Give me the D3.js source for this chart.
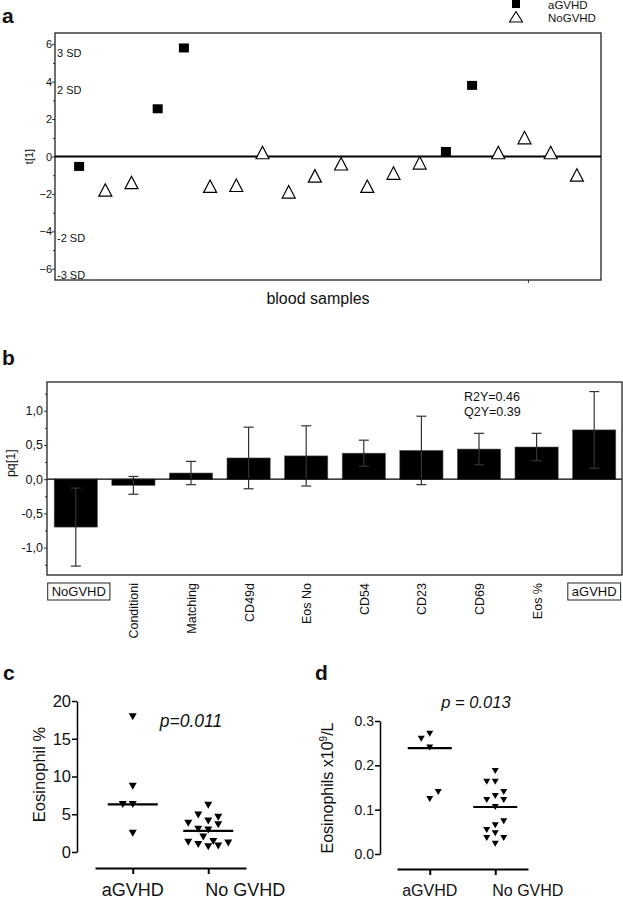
<!DOCTYPE html>
<html><head><meta charset="utf-8">
<script src="https://cdn.jsdelivr.net/npm/d3@7"></script>
<style>
body{margin:0;background:#fff}
svg text{font-family:"Liberation Sans",Arial,sans-serif;fill:#111}
</style>
</head><body>
<svg id="chart" width="623" height="899"></svg>
<script>
// ---------- DATA ----------
// Panel a: score plot
const aGroups = ["aGVHD","NoGVHD","NoGVHD","aGVHD","aGVHD","NoGVHD","NoGVHD","NoGVHD","NoGVHD","NoGVHD",
                 "NoGVHD","NoGVHD","NoGVHD","NoGVHD","aGVHD","aGVHD","NoGVHD","NoGVHD","NoGVHD","NoGVHD"];
const aScores = [-0.53,-1.8,-1.4,2.55,5.8,-1.6,-1.55,0.2,-1.9,-1.05,-0.4,-1.6,-0.9,-0.35,0.27,3.8,0.2,1.0,0.2,-1.0];
const aYTicks = [-6,-4,-2,0,2,4,6];
const aSDLabels = ["3 SD","2 SD","-2 SD","-3 SD"];
const aSDValues = [5.3,3.35,-4.57,-6.55];
const aLegend = ["aGVHD","NoGVHD"];

// Panel b: loadings
const bCats = ["NoGVHD","Conditioni","Matching","CD49d","Eos No","CD54","CD23","CD69","Eos %","aGVHD"];
const bVals = [-0.70,-0.09,0.09,0.31,0.34,0.38,0.42,0.44,0.47,0.72];
const bErr  = [0.57,0.13,0.17,0.45,0.44,0.19,0.50,0.23,0.20,0.56];
const bBoxed = ["NoGVHD","aGVHD"];
const bYTicks = [-1,-0.5,0,0.5,1];
const bYTickLabels = ["-1,0","-0,5","0,0","0,5","1,0"];
const bStats = ["R2Y=0.46","Q2Y=0.39"];

// Panel c: Eosinophil %
const cGroups = ["aGVHD","No GVHD"];
const cA = [17.9,8.7,6.3,6.3,2.5];
const cASlot = [0,0,-1,0,0];
const cN = [6.2,4.9,4.6,4.1,3.8,3.6,3.0,2.9,2.0,1.3,1.4,1.0,0.7,0.8,1.2];
const cNSlot = [0,-1,1,0,-2,1,-1,0,-0.5,-2,0.5,-1,0,1,2];
const cMedians = [6.3,2.8];
const cYTicks = [0,5,10,15,20];
const cP = "p=0.011";

// Panel d: Eosinophils x10^9/L
const dGroups = ["aGVHD","No GVHD"];
const dA = [0.271,0.26,0.24,0.14,0.124];
const dASlot = [0,-1,0,1,0];
const dN = [0.187,0.163,0.163,0.14,0.131,0.122,0.122,0.106,0.074,0.065,0.054,0.047,0.036,0.036,0.023];
const dNSlot = [0,-1,0,1,0,-1,1,0,1,0,-1,0,-1,1,0];
const dMedians = [0.239,0.106];
const dYTicks = [0,0.1,0.2,0.3];
const dP = "p = 0.013";

// ---------- DRAW ----------
const svg = d3.select("#chart");
const FONT = "Liberation Sans, Arial, sans-serif";

function panelLetter(t,x,y){
  svg.append("text").attr("x",x).attr("y",y).text(t)
    .attr("font-size",21).attr("font-weight","bold");
}

// ===== Panel a =====
panelLetter("a",2,23);
{
  const L=55,R=601,T=33,B=280;
  const x = d3.scaleLinear().domain([0.08,20.92]).range([L,R]);
  const y = d3.scaleLinear().domain([-6.6,6.6]).range([B,T]);
  const g = svg.append("g");
  g.append("g").attr("transform",`translate(${L},0)`)
    .call(d3.axisLeft(y).tickValues(d3.range(-5,7,2)).tickSize(2).tickFormat(""))
    .call(s=>s.select(".domain").remove())
    .call(s=>s.selectAll("line").attr("stroke","#333"));
  g.append("g").attr("transform",`translate(${L},0)`)
    .call(d3.axisLeft(y).tickValues(aYTicks).tickSize(3).tickPadding(0).tickFormat(d3.format("d")))
    .call(s=>s.select(".domain").remove())
    .call(s=>s.selectAll("line").attr("stroke","#333"))
    .call(s=>s.selectAll("text").attr("font-size",11).attr("font-family",FONT).attr("fill","#111"));
  g.append("rect").attr("x",L).attr("y",T).attr("width",R-L).attr("height",B-T)
    .attr("fill","none").attr("stroke","#222").attr("stroke-width",1.3);
  g.append("line").attr("x1",L).attr("x2",R).attr("y1",y(0)).attr("y2",y(0))
    .attr("stroke","#000").attr("stroke-width",2);
  g.append("line").attr("x1",x(18.15)).attr("x2",x(18.15)).attr("y1",B).attr("y2",B+3).attr("stroke","#333");
  aSDLabels.forEach((t,i)=>{
    g.append("text").attr("x",L+2).attr("y",y(aSDValues[i])).text(t).attr("font-size",11);
  });
  aScores.forEach((v,i)=>{
    const cx=x(i+1), cy=y(v);
    if(aGroups[i]==="aGVHD"){
      g.append("rect").attr("x",cx-5).attr("y",cy-4.5).attr("width",10).attr("height",9).attr("fill","#000");
    } else {
      g.append("path").attr("d",`M${cx-6.5},${cy+6}L${cx+6.5},${cy+6}L${cx},${cy-6.5}Z`)
        .attr("fill","#fff").attr("stroke","#000").attr("stroke-width",1.2);
    }
  });
  svg.append("text").attr("transform",`translate(33,${y(0)}) rotate(-90)`).attr("text-anchor","middle")
    .attr("font-size",11).text("t[1]");
  svg.append("text").attr("x",318).attr("y",304).attr("text-anchor","middle")
    .attr("font-size",16).text("blood samples");
  // legend
  svg.append("rect").attr("x",512).attr("y",0).attr("width",8).attr("height",8).attr("fill","#000");
  svg.append("path").attr("d","M509.5,22L522.5,22L516,11.5Z").attr("fill","#fff").attr("stroke","#000").attr("stroke-width",1.1);
  svg.append("text").attr("x",548).attr("y",9).attr("font-size",11.5).text(aLegend[0]);
  svg.append("text").attr("x",548).attr("y",22).attr("font-size",11.5).text(aLegend[1]);
}

// ===== Panel b =====
panelLetter("b",2,365);
{
  const L=47,R=622,T=382,B=575;
  const x = d3.scaleBand().domain(bCats).range([L,623]).paddingInner(0.25).paddingOuter(0.125);
  const y = d3.scaleLinear().domain([-1.4,1.42]).range([B,T]);
  const g = svg.append("g");
  g.append("g").attr("transform",`translate(${L},0)`)
    .call(d3.axisLeft(y).tickValues(d3.range(-1.25,1.5,0.5)).tickSize(2).tickFormat(""))
    .call(s=>s.select(".domain").remove())
    .call(s=>s.selectAll("line").attr("stroke","#333"));
  g.append("g").attr("transform",`translate(${L},0)`)
    .call(d3.axisLeft(y).tickValues(bYTicks).tickSize(3).tickPadding(1).tickFormat((d,i)=>bYTickLabels[i]))
    .call(s=>s.select(".domain").remove())
    .call(s=>s.selectAll("line").attr("stroke","#333"))
    .call(s=>s.selectAll("text").attr("font-size",12.5).attr("font-family",FONT).attr("fill","#111"));
  g.selectAll(".bar").data(bCats).join("rect")
    .attr("x",d=>x(d)).attr("width",x.bandwidth())
    .attr("y",(d,i)=>y(Math.max(0,bVals[i]))).attr("height",(d,i)=>Math.abs(y(bVals[i])-y(0)))
    .attr("fill","#000").attr("stroke","#555").attr("stroke-width",0.6);
  bCats.forEach((c,i)=>{
    const cx=x(c)+x.bandwidth()/2;
    const y1=y(bVals[i]+bErr[i]), y2=y(bVals[i]-bErr[i]);
    g.append("line").attr("x1",cx).attr("x2",cx).attr("y1",y1).attr("y2",y2).attr("stroke","#333").attr("stroke-width",1.2);
    [y1,y2].forEach(yy=>g.append("line").attr("x1",cx-5).attr("x2",cx+5).attr("y1",yy).attr("y2",yy).attr("stroke","#333").attr("stroke-width",1.2));
  });
  g.append("line").attr("x1",L).attr("x2",R).attr("y1",y(0)).attr("y2",y(0)).attr("stroke","#000").attr("stroke-width",1.2);
  g.append("rect").attr("x",L).attr("y",T).attr("width",R-L).attr("height",B-T)
    .attr("fill","none").attr("stroke","#222").attr("stroke-width",1.3);
  bStats.forEach((t,i)=>g.append("text").attr("x",464).attr("y",401+i*14.5).attr("font-size",12.5).text(t));
  bCats.forEach((c,i)=>{
    const cx=x(c)+x.bandwidth()/2;
    if(bBoxed.includes(c)){
      const tx = g.append("text").attr("x",cx+(i===0?3:0)).attr("y",596).attr("text-anchor","middle").attr("font-size",13).text(c);
      const bb = tx.node().getBBox();
      g.append("rect").attr("x",bb.x-4).attr("y",583).attr("width",bb.width+8).attr("height",17)
        .attr("fill","none").attr("stroke","#222").attr("stroke-width",1);
    } else {
      g.append("text").attr("transform",`translate(${cx+5},583) rotate(-90)`).attr("text-anchor","end")
        .attr("font-size",12.5).text(c);
    }
  });
  svg.append("text").attr("transform",`translate(15,${y(0)-16}) rotate(-90)`).attr("text-anchor","middle")
    .attr("font-size",12.5).text("pq[1]");
}

// ===== Panel c & d helper =====
function dotPanel(opt){
  const {xr,yr,ydom,ticks,fmt,groups,vals,slots,meds,slotW,triW,triH,medHalf,axisY,tickFont,labFont} = opt;
  const x = d3.scalePoint().domain(groups).range(xr).padding(0.5);
  const y = d3.scaleLinear().domain(ydom).range(yr);
  const s = d3.scaleLinear().domain([-1,1]).range([-slotW,slotW]);
  const g = svg.append("g");
  g.append("g").attr("transform",`translate(${opt.yAxisX},0)`)
    .call(d3.axisLeft(y).tickValues(ticks).tickSize(5).tickSizeOuter(0).tickPadding(1).tickFormat(fmt))
    .call(a=>a.selectAll("path,line").attr("stroke","#000").attr("stroke-width",1.5))
    .call(a=>a.selectAll("text").attr("font-size",tickFont).attr("font-family",FONT).attr("fill","#111"));
  g.append("g").attr("transform",`translate(0,${axisY})`)
    .call(d3.axisBottom(x).tickSize(6).tickSizeOuter(0).tickFormat(""))
    .call(a=>a.selectAll("path,line").attr("stroke","#000").attr("stroke-width",2));
  groups.forEach((gr,k)=>{
    g.append("text").attr("x",k===0?x(gr):x(gr)-3).attr("y",896)
      .attr("text-anchor",k===0?"middle":"start").attr("font-size",labFont).text(gr);
  });
  groups.forEach((gr,k)=>{
    vals[k].forEach((v,i)=>{
      const cx=x(gr)+s(slots[k][i]), cy=y(v);
      g.append("path").attr("d",`M${cx-triW/2},${cy-triH/2}L${cx+triW/2},${cy-triH/2}L${cx},${cy+triH/2}Z`).attr("fill","#000");
    });
    g.append("line").attr("x1",x(gr)-medHalf).attr("x2",x(gr)+medHalf).attr("y1",y(meds[k])).attr("y2",y(meds[k]))
      .attr("stroke","#000").attr("stroke-width",2.2);
  });
  return {x,y};
}

// ===== Panel c =====
panelLetter("c",3,680);
{
  dotPanel({xr:[95,246],yr:[852,701],ydom:[0,20],ticks:cYTicks,fmt:d3.format("d"),groups:cGroups,
    vals:[cA,cN],slots:[cASlot,cNSlot],meds:cMedians,slotW:10,triW:8,triH:7,medHalf:25,axisY:868,
    yAxisX:77,tickFont:16.5,labFont:18});
  svg.append("text").attr("transform","translate(44.5,774.5) rotate(-90)").attr("text-anchor","middle")
    .attr("font-size",16.5).text("Eosinophil %");
  svg.append("text").attr("x",191).attr("y",727).attr("text-anchor","middle").attr("font-size",17.5)
    .attr("font-style","italic").text(cP);
}

// ===== Panel d =====
panelLetter("d",315,680);
{
  dotPanel({xr:[397,528],yr:[854,721],ydom:[0,0.3],ticks:dYTicks,fmt:d3.format(".1f"),groups:dGroups,
    vals:[dA,dN],slots:[dASlot,dNSlot],meds:dMedians,slotW:8.5,triW:7,triH:6,medHalf:22,axisY:869,
    yAxisX:380,tickFont:14,labFont:16});
  const t = svg.append("text").attr("transform","translate(333,788) rotate(-90)").attr("text-anchor","middle")
    .attr("font-size",16);
  t.append("tspan").text("Eosinophils x10");
  t.append("tspan").attr("font-size",10).attr("dy",-6).text("9");
  t.append("tspan").attr("dy",6).text("/L");
  svg.append("text").attr("x",476).attr("y",708).attr("text-anchor","middle").attr("font-size",16.5)
    .attr("font-style","italic").text(dP);
}
</script>
</body></html>
